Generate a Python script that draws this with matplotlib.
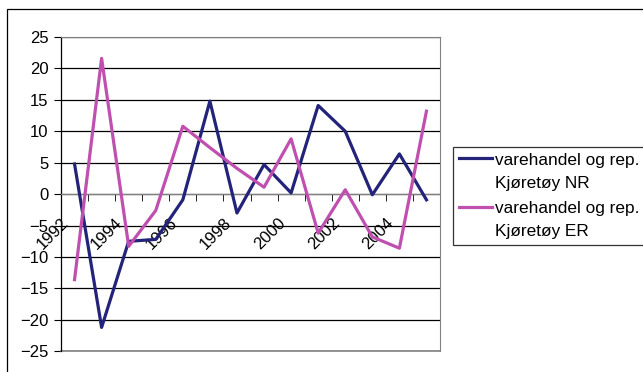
import matplotlib
matplotlib.use("Agg")
import matplotlib.pyplot as plt
import matplotlib.transforms as mtransforms
from matplotlib.patches import Rectangle
from matplotlib.legend_handler import HandlerLine2D
import numpy as np

plt.rcParams['font.family'] = ['Liberation Sans', 'DejaVu Sans']

years = list(range(1992, 2006))
nr = [4.8, -21.2, -7.5, -7.2, -0.9, 14.8, -3.0, 4.7, 0.2, 14.1, 10.0, -0.1, 6.4, -0.9]
er = [-13.6, 21.6, -8.3, -2.6, 10.8, 7.4, 4.1, 1.1, 8.8, -6.2, 0.7, -6.8, -8.6, 13.2]
label_nr = "varehandel og rep.\nKjøretøy NR"
label_er = "varehandel og rep.\nKjøretøy ER"
c_nr = "#23237a"
c_er = "#c050b0"


class FirstLineHandler(HandlerLine2D):
    # put the legend line next to the first line of a two-line label
    def __init__(self, lift, **kw):
        super().__init__(**kw)
        self.lift = lift

    def create_artists(self, legend, orig_handle, xdescent, ydescent,
                       width, height, fontsize, trans):
        arts = super().create_artists(legend, orig_handle, xdescent, ydescent,
                                      width, height, fontsize, trans)
        for a in arts:
            a.set_ydata(np.asarray(a.get_ydata()) + self.lift)
        return arts


fig = plt.figure(figsize=(6.43, 3.72), dpi=100)
ax = fig.add_axes([61/643, 1-351.3/372, 379/643, 314.3/372])

xs = np.arange(len(years)) + 0.5
l1, = ax.plot(xs, nr, color=c_nr, lw=2.3, label=label_nr, zorder=3)
l2, = ax.plot(xs, er, color=c_er, lw=2.3, label=label_er, zorder=3)

ax.set_xlim(0, len(years))
ax.set_ylim(-25, 25)
ax.set_yticks(np.arange(-25, 26, 5))
ax.yaxis.grid(True, color="#000000", lw=0.9)
ax.set_axisbelow(True)

# category axis crosses at zero
ax.spines['bottom'].set_position(('data', 0))
for s in ['bottom', 'top', 'right']:
    ax.spines[s].set_color("#808080")
ax.spines['left'].set_color("#000000")
ax.spines['left'].set_linewidth(0.9)

ax.set_xticks(np.arange(0, len(years) + 1), minor=True)
ax.set_xticks(xs[::2])
ax.set_xticklabels([str(y) for y in years[::2]], rotation=45, ha='right')
ax.tick_params(axis='x', which='major', length=0, pad=15, labelsize=12)
ax.tick_params(axis='x', which='minor', length=5, color="#000000", direction='out')
ax.tick_params(axis='y', length=5, labelsize=12, pad=4)
shift = mtransforms.ScaledTranslation(-3/100, 0, fig.dpi_scale_trans)
for lbl in ax.get_xticklabels():
    lbl.set_transform(lbl.get_transform() + shift)

# bottom border of the plot area
ax.axhline(-25, color="#808080", lw=1.2, clip_on=False)

hmap = {l1: FirstLineHandler(9.6), l2: FirstLineHandler(9.6)}
leg = fig.legend(loc='upper left', bbox_to_anchor=(453/643, 1-146.5/372),
                 fontsize=12.4, frameon=True, fancybox=False, handlelength=1.9,
                 handletextpad=0.2, borderpad=0.36, labelspacing=0.58,
                 borderaxespad=0, handler_map=hmap)
leg.get_frame().set_edgecolor("#000000")
leg.get_frame().set_linewidth(0.9)
for t in leg.get_texts():
    t.set_linespacing(1.68)

fig.patches.append(Rectangle((7/643, -0.2), 1.2, 1.2 - 9/372,
                             transform=fig.transFigure, fill=False,
                             edgecolor="#000000", lw=0.9))

fig.savefig("out.png", dpi=100)
